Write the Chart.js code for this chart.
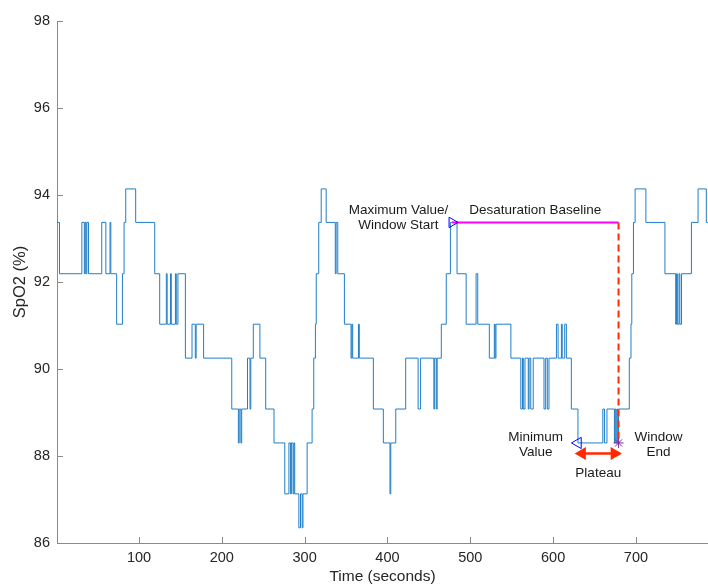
<!DOCTYPE html>
<html>
<head>
<meta charset="utf-8">
<script src="https://cdn.jsdelivr.net/npm/chart.js@4.4.1/dist/chart.umd.min.js"></script>
<style>
  html, body { margin: 0; padding: 0; background: #fff; overflow: hidden; }
  canvas { display: block; }
</style>
</head>
<body>
<canvas id="myChart" width="708" height="584"></canvas>
<script>
    // SpO2 trace as change points: spo2[i] holds from time[i] until time[i+1]
    var time = [1, 4, 31, 34, 35, 36, 37, 39, 55, 60, 65, 66, 73, 80, 82, 84, 96, 119, 125,
        133, 134, 138, 139, 144, 145, 147, 156, 164, 168, 169, 178, 212, 220, 221, 223, 224,
        231, 234, 235, 238, 246, 253, 263, 276, 281, 283, 284, 286, 287, 288, 293, 295, 297,
        298, 303, 309, 311, 313, 314, 317, 320, 326, 337, 338, 340, 348, 356, 357, 358, 365,
        366, 383, 395, 403, 404, 410, 422, 437, 440, 456, 457, 459, 460, 465, 471, 476, 484,
        495, 507, 509, 523, 529, 530, 531, 549, 561, 563, 564, 566, 570, 571, 573, 576, 589,
        591, 593, 595, 604, 606, 610, 611, 614, 616, 622, 630, 660, 662, 665, 674, 675, 676,
        677, 678, 679, 692, 694, 695, 697, 699, 712, 735, 748, 749, 750, 752, 753, 755, 767,
        775, 785, 787]
    var spo2 = [93.37, 92.19, 93.37, 92.19, 93.37, 92.19, 93.37, 92.19, 93.37, 92.19, 93.37, 92.19, 91.03, 92.19, 93.37, 94.14, 93.37, 92.19, 91.03,
        92.19, 91.03, 92.19, 91.03, 92.19, 91.03, 92.19, 90.25, 91.03, 90.25, 91.03, 90.25, 89.08, 88.30, 89.08, 88.30, 89.08,
        90.25, 89.08, 90.25, 91.03, 90.25, 89.08, 88.30, 87.13, 88.30, 87.13, 88.30, 87.13, 88.30, 87.13, 86.35, 87.13, 86.35,
        87.13, 88.30, 89.08, 90.25, 91.03, 92.19, 93.37, 94.14, 93.37, 92.19, 93.37, 92.19, 91.03, 90.25, 91.03, 90.25, 91.03,
        90.25, 89.08, 88.30, 87.13, 88.30, 89.08, 90.25, 89.08, 90.25, 89.08, 90.25, 89.08, 90.25, 91.03, 92.19, 93.37, 92.19,
        91.03, 92.19, 91.03, 90.25, 91.03, 90.25, 91.03, 90.25, 89.08, 90.25, 89.08, 90.25, 89.08, 90.25, 89.08, 90.25, 89.08,
        90.25, 89.08, 90.25, 91.03, 90.25, 91.03, 90.25, 91.03, 90.25, 89.08, 88.30, 89.08, 88.30, 89.08, 88.30, 89.08, 88.30,
        89.08, 88.30, 89.08, 90.25, 91.03, 92.19, 93.37, 94.14, 93.37, 92.19, 91.03, 92.19, 91.03, 92.19, 91.03, 92.19, 93.37,
        94.14, 93.37, 93.37]

    var xTicks = [100, 200, 300, 400, 500, 600, 700]
    var yTicks = [86, 88, 90, 92, 94, 96, 98]

    // desaturation event
    var windowStart = 478
    var windowEnd = 679
    var minTime = 630
    var baseline = 93.37
    var minimum = 88.30
    var plateauArrow = [635, 674]
    var plateauLevel = 88.055

    var notes = [
        { lines: ['Maximum Value/', 'Window Start'], x: 413.2, y: 93.648 },
        { lines: ['Desaturation Baseline'], x: 578.4, y: 93.648 },
        { lines: ['Minimum', 'Value'], x: 578.9, y: 88.437 },
        { lines: ['Window', 'End'], x: 727.3, y: 88.437 },
        { lines: ['Plateau'], x: 654.5, y: 87.595 }
    ]

    var axisColor = '#8a8a8a'
    var fontFamily = '"Liberation Sans", Arial, Helvetica, sans-serif'

    var traceData = time.map(function(t, i) { return { x: t, y: spo2[i] } })

    var ticksAndNotes = {
        id: 'ticksAndNotes',
        afterDraw: function(chart) {
            var ctx = chart.ctx
            var xs = chart.scales.x
            var ys = chart.scales.y
            var area = chart.chartArea
            ctx.save()
            // inward tick marks, MATLAB style
            ctx.strokeStyle = axisColor
            ctx.lineWidth = 1
            ctx.beginPath()
            xs.ticks.forEach(function(t) {
                var px = Math.round(xs.getPixelForValue(t.value)) + 0.5
                ctx.moveTo(px, area.bottom)
                ctx.lineTo(px, area.bottom - 6)
            })
            ys.ticks.forEach(function(t) {
                var py = Math.round(ys.getPixelForValue(t.value)) + 0.5
                ctx.moveTo(area.left, py)
                ctx.lineTo(area.left + 6, py)
            })
            ctx.stroke()
            // annotation text
            ctx.fillStyle = '#1a1a1a'
            ctx.font = '13.5px ' + fontFamily
            ctx.textAlign = 'center'
            ctx.textBaseline = 'middle'
            notes.forEach(function(n) {
                var px = xs.getPixelForValue(n.x)
                var py = ys.getPixelForValue(n.y)
                n.lines.forEach(function(s, i) {
                    ctx.fillText(s, px, py + i * 15)
                })
            })
            ctx.restore()
        }
    }

    var ctx = document.getElementById('myChart').getContext('2d');
    var myChart = new Chart(ctx, {
        type: 'line',
        data: {
            datasets: [{
                // max value / window start
                data: [{ x: windowStart, y: baseline }],
                showLine: false,
                pointStyle: 'triangle',
                pointRotation: 90,
                pointRadius: 6,
                pointBorderColor: '#0000ff',
                pointBackgroundColor: 'rgba(0,0,0,0)',
                pointBorderWidth: 1
            }, {
                // minimum value
                data: [{ x: minTime, y: minimum }],
                showLine: false,
                pointStyle: 'triangle',
                pointRotation: -90,
                pointRadius: 6.5,
                pointBorderColor: '#0000ff',
                pointBackgroundColor: 'rgba(0,0,0,0)',
                pointBorderWidth: 1
            }, {
                // window end
                data: [{ x: windowEnd, y: minimum }],
                showLine: false,
                pointStyle: 'star',
                pointRadius: 5,
                pointBorderColor: '#7E2F8E',
                pointBorderWidth: 1
            }, {
                // plateau arrow
                data: [{ x: plateauArrow[0], y: plateauLevel }, { x: plateauArrow[1], y: plateauLevel }],
                borderColor: '#ff2a00',
                borderWidth: 2.5,
                pointStyle: 'triangle',
                pointRotation: [-90, 90],
                pointRadius: 5,
                pointBorderColor: '#ff2a00',
                pointBackgroundColor: '#ff2a00'
            }, {
                // window end line
                data: [{ x: windowEnd, y: baseline }, { x: windowEnd, y: minimum }],
                borderColor: '#ff2a00',
                borderWidth: 2,
                borderDash: [7, 4],
                pointRadius: 0
            }, {
                // desaturation baseline
                data: [{ x: windowStart, y: baseline }, { x: windowEnd, y: baseline }],
                borderColor: '#ff00ff',
                borderWidth: 2,
                pointRadius: 0
            }, {
                label: 'SpO2',
                data: traceData,
                stepped: 'before',
                borderColor: '#1f7fc8',
                borderWidth: 1,
                pointRadius: 0,
                fill: false
            }]
        },
        options: {
            responsive: false,
            animation: false,
            layout: { autoPadding: false, padding: { top: 21, right: 0, left: 0, bottom: 0 } },
            plugins: {
                legend: { display: false },
                tooltip: { enabled: false }
            },
            scales: {
                x: {
                    type: 'linear',
                    min: 1,
                    max: 787,
                    afterFit: function(s) {
                        s.height = 41
                        s.paddingLeft = 0
                        s.paddingRight = 0
                    },
                    afterBuildTicks: function(s) { s.ticks = xTicks.map(function(v) { return { value: v } }) },
                    grid: { display: false, drawTicks: false },
                    border: { display: true, color: axisColor, width: 1 },
                    ticks: {
                        autoSkip: false,
                        maxRotation: 0,
                        padding: 6,
                        color: '#262626',
                        font: { family: fontFamily, size: 14.5 }
                    },
                    title: {
                        display: true,
                        text: 'Time (seconds)',
                        color: '#262626',
                        padding: 0,
                        font: { family: fontFamily, size: 15.5, lineHeight: 1 }
                    }
                },
                y: {
                    min: 86,
                    max: 98,
                    afterFit: function(s) { s.width = 57 },
                    afterBuildTicks: function(s) { s.ticks = yTicks.map(function(v) { return { value: v } }) },
                    grid: { display: false, drawTicks: false },
                    border: { display: true, color: axisColor, width: 1 },
                    ticks: {
                        padding: 7,
                        color: '#262626',
                        font: { family: fontFamily, size: 14.5 }
                    },
                    title: {
                        display: true,
                        text: 'SpO2 (%)',
                        color: '#262626',
                        padding: { top: 11, bottom: 0 },
                        font: { family: fontFamily, size: 16.5, lineHeight: 1.2 }
                    }
                }
            }
        },
        plugins: [ticksAndNotes]
    });
</script>
</body>
</html>
